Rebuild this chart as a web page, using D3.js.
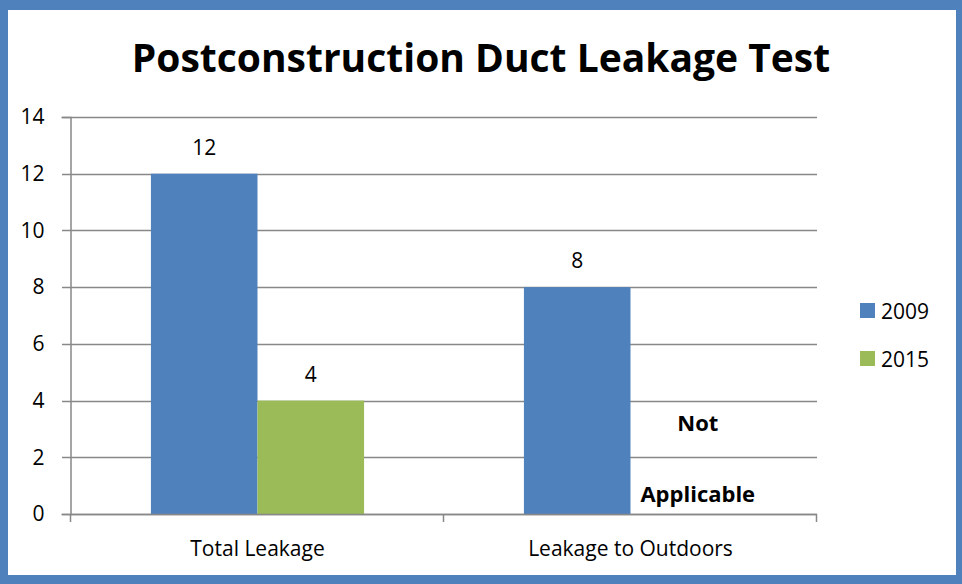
<!DOCTYPE html>
<html>
<head>
<meta charset="utf-8">
<script src="https://cdn.jsdelivr.net/npm/d3@7"></script>
<style>
  body { margin: 0; background: #fff; }
  svg { display: block; }
  text { font-family: "Open Sans", sans-serif; fill: #000; }
</style>
</head>
<body>
<svg id="chart" width="962" height="584"></svg>
<script>
const categories = ["Total Leakage", "Leakage to Outdoors"];
const series = ["2009", "2015"];
const values2009 = [12, 8];
const values2015 = [4, null];
const missingNote = ["Not", "Applicable"];
const yTicks = [0, 2, 4, 6, 8, 10, 12, 14];

const colors = { "2009": "#4f81bd", "2015": "#9bbb59" };
const gridColor = "#888888";

const svg = d3.select("#chart");
const W = 962, H = 584;

// frame
svg.append("rect").attr("width", W).attr("height", H).attr("fill", "#4f81bd");
svg.append("rect").attr("x", 8).attr("y", 10).attr("width", 948).attr("height", 565).attr("fill", "#fff");

const plot = { left: 71, right: 817, top: 117, bottom: 514 };

const y = d3.scaleLinear().domain([0, 14]).range([plot.bottom, plot.top]);
const x0 = d3.scaleBand().domain(categories).range([plot.left, plot.right]);
const x1 = d3.scaleBand().domain(series).range([0, x0.bandwidth()]).paddingOuter(0.75);

// title
svg.append("text")
    .attr("x", 481).attr("y", 72)
    .attr("text-anchor", "middle")
    .style("font-weight", "bold")
    .style("font-size", "39px")
    .text("Postconstruction Duct Leakage Test");

// gridlines
svg.append("g")
    .selectAll("line")
    .data(yTicks)
    .join("line")
    .attr("x1", plot.left - 9).attr("x2", plot.right)
    .attr("y1", d => Math.round(y(d)) + 0.5).attr("y2", d => Math.round(y(d)) + 0.5)
    .attr("stroke", gridColor).attr("stroke-width", 1.5);

// y axis
const yAxis = svg.append("g")
    .attr("transform", `translate(${plot.left - 0.5},0)`)
    .call(d3.axisLeft(y).tickValues(yTicks).tickSize(9).tickPadding(17));
yAxis.select(".domain").attr("stroke", gridColor).attr("stroke-width", 1.5);
yAxis.selectAll(".tick line").remove();
yAxis.selectAll(".tick text")
    .style("font-family", "'Open Sans', sans-serif").style("font-size", "21px").attr("fill", "#000");

// bars
const rows = categories.map((c, i) => ({ category: c, "2009": values2009[i], "2015": values2015[i] }));

const groups = svg.append("g")
    .selectAll("g")
    .data(rows)
    .join("g")
    .attr("transform", d => `translate(${x0(d.category)},0)`);

groups.selectAll("rect")
    .data(d => series.map(s => ({ key: s, value: d[s] })).filter(d => d.value != null))
    .join("rect")
    .attr("x", d => x1(d.key))
    .attr("y", d => y(d.value))
    .attr("width", x1.bandwidth())
    .attr("height", d => y(0) - y(d.value))
    .attr("fill", d => colors[d.key]);

groups.selectAll("text.value")
    .data(d => series.map(s => ({ key: s, value: d[s] })).filter(d => d.value != null))
    .join("text")
    .attr("class", "value")
    .attr("x", d => x1(d.key) + x1.bandwidth() / 2)
    .attr("y", d => y(d.value) - 19)
    .attr("text-anchor", "middle")
    .style("font-size", "21px")
    .text(d => d.value);

// "Not Applicable" note for missing values
rows.forEach(r => {
    series.forEach(s => {
        if (r[s] == null) {
            const cx = x0(r.category) + x1(s) + x1.bandwidth() / 2 + 14;
            svg.append("text")
                .attr("x", cx).attr("y", y(0) - 83)
                .attr("text-anchor", "middle")
                .style("font-weight", "bold").style("font-size", "22px")
                .text(missingNote[0]);
            svg.append("text")
                .attr("x", cx).attr("y", y(0) - 12)
                .attr("text-anchor", "middle")
                .style("font-weight", "bold").style("font-size", "22px")
                .text(missingNote[1]);
        }
    });
});

// x axis
const xAxis = svg.append("g")
    .attr("transform", `translate(0,${Math.round(y(0)) + 0.5})`)
    .call(d3.axisBottom(x0).tickSize(0).tickPadding(27));
xAxis.select(".domain").remove();
xAxis.selectAll(".tick text")
    .style("font-family", "'Open Sans', sans-serif").style("font-size", "21px").attr("fill", "#000");
svg.append("line")
    .attr("x1", plot.left).attr("x2", plot.right)
    .attr("y1", Math.round(y(0)) + 0.5).attr("y2", Math.round(y(0)) + 0.5)
    .attr("stroke", gridColor).attr("stroke-width", 1.5);
svg.append("g")
    .selectAll("line")
    .data([plot.left, ...categories.map(c => x0(c) + x0.bandwidth())])
    .join("line")
    .attr("x1", d => Math.round(d) - 0.5).attr("x2", d => Math.round(d) - 0.5)
    .attr("y1", y(0)).attr("y2", y(0) + 8)
    .attr("stroke", gridColor).attr("stroke-width", 1.5);

// legend
const legend = svg.append("g")
    .selectAll("g")
    .data(series)
    .join("g")
    .attr("transform", (d, i) => `translate(860,${303 + i * 48})`);
legend.append("rect").attr("width", 15).attr("height", 15).attr("fill", d => colors[d]);
legend.append("text")
    .attr("x", 21).attr("y", 15.5)
    .style("font-size", "21px")
    .text(d => d);
</script>
</body>
</html>
